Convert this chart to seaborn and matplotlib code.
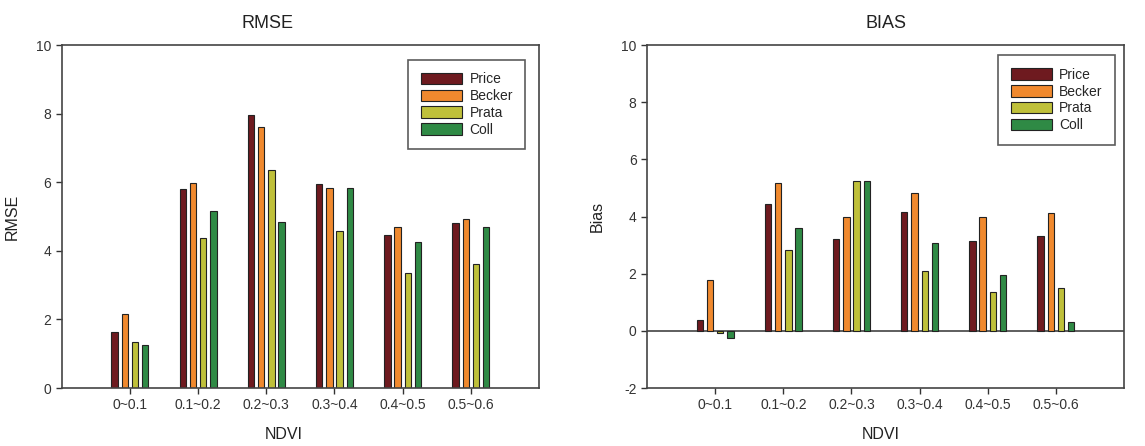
import matplotlib
matplotlib.use("Agg")
import matplotlib.pyplot as plt
import seaborn as sns
import pandas as pd

# NDVI 구간
ndvi = ["0~0.1", "0.1~0.2", "0.2~0.3", "0.3~0.4", "0.4~0.5", "0.5~0.6"]
methods = ["Price", "Becker", "Prata", "Coll"]
colors = ["#6E1A1F", "#F0892E", "#BFC03A", "#2F8A45"]

# RMSE 값
rmse_price = [1.63, 5.79, 7.96, 5.94, 4.47, 4.82]
rmse_becker = [2.17, 5.98, 7.61, 5.82, 4.70, 4.93]
rmse_prata = [1.34, 4.38, 6.37, 4.59, 3.36, 3.61]
rmse_coll = [1.26, 5.17, 4.83, 5.83, 4.25, 4.70]

# Bias 값
bias_price = [0.37, 4.44, 3.21, 4.16, 3.14, 3.31]
bias_becker = [1.77, 5.16, 3.97, 4.81, 4.00, 4.14]
bias_prata = [-0.06, 2.83, 5.23, 2.09, 1.37, 1.49]
bias_coll = [-0.26, 3.59, 5.23, 3.07, 1.97, 0.30]


def to_df(series):
    rows = []
    for m, vals in zip(methods, series):
        for c, v in zip(ndvi, vals):
            rows.append({"NDVI": c, "method": m, "value": v})
    return pd.DataFrame(rows)


rmse_df = to_df([rmse_price, rmse_becker, rmse_prata, rmse_coll])
bias_df = to_df([bias_price, bias_becker, bias_prata, bias_coll])

sns.set_style("white")
plt.rcParams["font.family"] = ["Liberation Sans", "DejaVu Sans"]
plt.rcParams["axes.unicode_minus"] = False

fig = plt.figure(figsize=(11.45, 4.46), dpi=100)
ax1 = fig.add_axes([0.0539, 0.130, 0.4169, 0.769])
ax2 = fig.add_axes([0.5651, 0.130, 0.4166, 0.769])


def draw(ax, df, ylim, ylabel, title, title_x, xlabel_x, leg_anchor):
    sns.barplot(data=df, x="NDVI", y="value", hue="method", order=ndvi,
                hue_order=methods, palette=colors, saturation=1,
                width=0.6, gap=0.38, edgecolor="#222222", linewidth=0.8,
                errorbar=None, ax=ax)
    ax.set_xlim(-1, 6)
    ax.set_ylim(*ylim)
    ax.set_yticks(range(ylim[0], ylim[1] + 1, 2))
    ax.set_title(title, fontsize=13, x=title_x, pad=12, color="#222222")
    ax.set_xlabel("NDVI", fontsize=11.5, color="#222222")
    ax.xaxis.set_label_coords(xlabel_x, -0.115)
    ax.set_ylabel(ylabel, fontsize=11.5, labelpad=12, color="#222222")
    ax.tick_params(axis="both", direction="out", length=4, width=1,
                   labelsize=10, colors="#333333", bottom=True, left=True)
    for s in ax.spines.values():
        s.set_visible(True)
        s.set_color("#444444")
        s.set_linewidth(1.2)
    handles, labels = ax.get_legend_handles_labels()
    leg = ax.legend(handles, labels, loc="upper right",
                    bbox_to_anchor=leg_anchor, fontsize=10, frameon=True,
                    fancybox=False, edgecolor="#333333", handlelength=3.0,
                    handleheight=0.9, borderpad=0.9, labelspacing=0.2,
                    handletextpad=0.5)
    leg.get_frame().set_linewidth(1.2)


draw(ax1, rmse_df, (0, 10), "RMSE", "RMSE", 0.432, 0.465, (0.986, 0.977))
draw(ax2, bias_df, (-2, 10), "Bias", "BIAS", 0.5, 0.49, (0.996, 0.99))
ax2.axhline(0, color="#333333", lw=1.1, zorder=0.5)

fig.savefig("out.png", dpi=100)
